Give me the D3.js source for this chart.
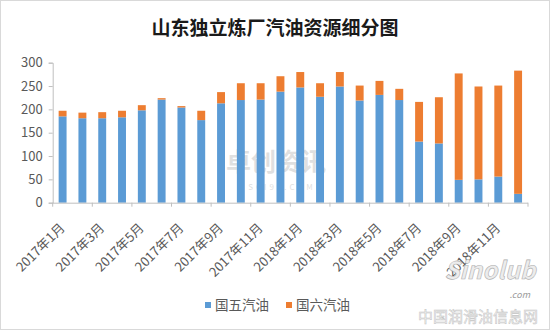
<!DOCTYPE html>
<html>
<head>
<meta charset="utf-8">
<script src="https://cdn.jsdelivr.net/npm/d3@7/dist/d3.min.js"></script>
<style>
  html, body { margin: 0; padding: 0; background: #fff; }
  svg { display: block; }
  text { font-family: "Noto Sans CJK SC", "Microsoft YaHei", sans-serif; }
</style>
</head>
<body>
<svg id="chart" width="550" height="330"></svg>
<script>
// Monthly gasoline output of Shandong independent refineries, split by standard
const months = [
  "2017年1月","2017年2月","2017年3月","2017年4月","2017年5月","2017年6月",
  "2017年7月","2017年8月","2017年9月","2017年10月","2017年11月","2017年12月",
  "2018年1月","2018年2月","2018年3月","2018年4月","2018年5月","2018年6月",
  "2018年7月","2018年8月","2018年9月","2018年10月","2018年11月","2018年12月"
];
const guoWu  = [185,181,181,183,198,221,204,177,213,220,221,238,247,227,249,219,231,220,131,127,49,50,56,19];
const guoLiu = [12,12,13,14,11,3,3,20,24,36,35,33,33,29,31,32,30,24,85,99,228,199,195,264];
const seriesNames = ["国五汽油", "国六汽油"];
const seriesColors = ["#5B9BD5", "#ED7D31"];
const yTicks = [0, 50, 100, 150, 200, 250, 300];
const titleText = "山东独立炼厂汽油资源细分图";

const svg = d3.select("#chart");

// outer chart frame
svg.append("rect")
  .attr("x", 0.5).attr("y", 0.5).attr("width", 549).attr("height", 329)
  .attr("fill", "#fff").attr("stroke", "#d9d9d9");

const plotLeft = 52.7, plotRight = 528, plotTop = 62.7, plotBottom = 202.7;

const x = d3.scaleBand().domain(months).range([plotLeft, plotRight])
  .paddingInner(0.6).paddingOuter(0.3);
const y = d3.scaleLinear().domain([0, 300]).range([plotBottom, plotTop]);

// title
svg.append("text")
  .attr("x", 275).attr("y", 35)
  .attr("text-anchor", "middle")
  .attr("font-size", 19).attr("font-weight", "bold")
  .attr("fill", "#1a1a1a")
  .text(titleText);

// faint watermark in the plot area
const wm = svg.append("g").attr("opacity", 0.26);
wm.append("text")
  .attr("x", 276).attr("y", 171)
  .attr("text-anchor", "middle")
  .attr("font-size", 25).attr("font-weight", "bold")
  .attr("fill", "#8a8a8a")
  .text("卓创资讯");
wm.append("text")
  .attr("x", 282).attr("y", 190)
  .attr("text-anchor", "middle")
  .attr("font-size", 8).attr("letter-spacing", 3)
  .attr("fill", "#8a8a8a")
  .text("SCI99.COM");

// stacked bars
const rows = months.map((m, i) => ({ month: m, a: guoWu[i], b: guoLiu[i] }));
const stack = d3.stack().keys(["a", "b"])(rows);

svg.append("g").selectAll("g")
  .data(stack)
  .join("g")
  .attr("fill", (d, i) => seriesColors[i])
  .selectAll("rect")
  .data(d => d)
  .join("rect")
  .attr("x", d => x(d.data.month))
  .attr("width", x.bandwidth())
  .attr("y", d => y(d[1]))
  .attr("height", d => y(d[0]) - y(d[1]));

// y axis
const yAxis = d3.axisLeft(y).tickValues(yTicks).tickSize(4).tickPadding(6);
const gy = svg.append("g")
  .attr("transform", `translate(${plotLeft},0)`)
  .call(yAxis);
gy.select(".domain").attr("stroke", "#bfbfbf");
gy.selectAll(".tick line").attr("stroke", "#bfbfbf");
gy.selectAll(".tick text")
  .attr("font-size", 13)
  .attr("fill", "#595959")
  .style("font-family", "'Noto Sans CJK SC', sans-serif");

// x axis baseline and tick marks every two categories
const step = x.step();
svg.append("line")
  .attr("x1", plotLeft).attr("x2", plotRight)
  .attr("y1", plotBottom + 0.5).attr("y2", plotBottom + 0.5)
  .attr("stroke", "#bfbfbf");
const tickIdx = d3.range(0, months.length + 1, 2);
svg.append("g").selectAll("line")
  .data(tickIdx)
  .join("line")
  .attr("x1", k => plotLeft + k * step)
  .attr("x2", k => plotLeft + k * step)
  .attr("y1", plotBottom)
  .attr("y2", plotBottom + 4)
  .attr("stroke", "#bfbfbf");

// rotated month labels on every other category
svg.append("g").selectAll("text")
  .data(months.filter((m, i) => i % 2 === 0))
  .join("text")
  .attr("transform", m => `translate(${x(m) + x.bandwidth() / 2 + 3},${plotBottom + 26}) rotate(-45)`)
  .attr("text-anchor", "end")
  .attr("font-size", 13)
  .attr("fill", "#595959")
  .text(m => m);

// legend
const legend = svg.append("g");
const legendX = [205, 286];
seriesNames.forEach((name, i) => {
  legend.append("rect")
    .attr("x", legendX[i]).attr("y", 302)
    .attr("width", 6).attr("height", 6)
    .attr("fill", seriesColors[i]);
  legend.append("text")
    .attr("x", legendX[i] + 10).attr("y", 310)
    .attr("font-size", 13.5)
    .attr("fill", "#595959")
    .text(name);
});

// site badge, bottom right
const badge = svg.append("g");
badge.append("text")
  .attr("x", 490).attr("y", 279)
  .attr("text-anchor", "middle")
  .attr("font-size", 24).attr("font-style", "italic").attr("font-weight", "bold")
  .attr("fill", "#ececec").attr("stroke", "#b0b0b0").attr("stroke-width", 0.6)
  .text("Sinolub");
badge.append("text")
  .attr("x", 530).attr("y", 298)
  .attr("text-anchor", "end")
  .attr("font-size", 9).attr("font-style", "italic")
  .attr("fill", "#9a9a9a")
  .text(".com");
badge.append("text")
  .attr("x", 478).attr("y", 322)
  .attr("text-anchor", "middle")
  .attr("font-size", 15)
  .attr("fill", "#f6f6f6").attr("stroke", "#c4c4c4").attr("stroke-width", 0.5)
  .text("中国润滑油信息网");
</script>
</body>
</html>
